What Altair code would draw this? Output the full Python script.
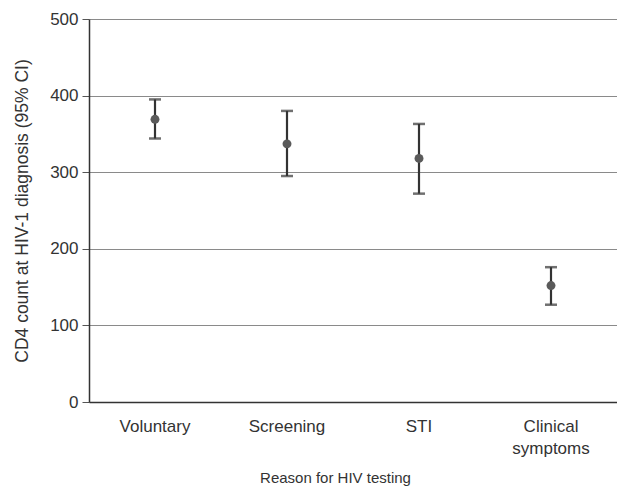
import altair as alt
import pandas as pd

reasons = ["Voluntary", "Screening", "STI", "Clinical symptoms"]
cd4 = [369, 337, 318, 152]
lower = [344, 295, 272, 127]
upper = [395, 380, 363, 176]

df = pd.DataFrame({"reason": reasons, "cd4": cd4, "lo": lower, "hi": upper})

FONT = "Liberation Sans"

x = alt.X("reason:N", sort=reasons,
          title="Reason for HIV testing",
          scale=alt.Scale(paddingInner=0, paddingOuter=0),
          axis=alt.Axis(labelAngle=0, ticks=False, domain=True, domainColor="#333",
                        domainWidth=1.5, labelPadding=16, titlePadding=14,
                        labelFontSize=17, titleFontSize=15,
                        titleX=246, titleAlign="center",
                        labelExpr="datum.label == 'Clinical symptoms' ? ['Clinical','symptoms'] : datum.label",
                        labelLineHeight=22, labelBaseline="top"))
yscale = alt.Scale(domain=[0, 500])
yaxis = alt.Axis(values=[0, 100, 200, 300, 400, 500], grid=True, gridColor="#8a8a8a",
                 gridWidth=1, domainColor="#333", domainWidth=1.5, tickColor="#555",
                 tickSize=7, labelPadding=4, titlePadding=18,
                 labelFontSize=17, titleFontSize=17.5)

base = alt.Chart(df)

rules = base.mark_rule(color="#333", strokeWidth=2.2).encode(
    x=x,
    y=alt.Y("lo:Q", scale=yscale, axis=yaxis, title="CD4 count at HIV-1 diagnosis (95% CI)"),
    y2="hi:Q",
)
caps_lo = base.mark_tick(color="#333", thickness=2.5, size=12).encode(
    x=x, y=alt.Y("lo:Q", scale=yscale))
caps_hi = base.mark_tick(color="#333", thickness=2.5, size=12).encode(
    x=x, y=alt.Y("hi:Q", scale=yscale))
points = base.mark_circle(color="#5a5a5a", opacity=1, size=80).encode(
    x=x, y=alt.Y("cd4:Q", scale=yscale))

chart = alt.layer(rules, caps_lo, caps_hi, points).properties(
    width=528, height=383,
    autosize=alt.AutoSizeParams(type="none"),
    padding={"left": 89, "top": 19, "right": 0, "bottom": 95},
).configure_view(stroke=None).configure_axis(
    labelFont=FONT, titleFont=FONT,
    labelColor="#333", titleColor="#333", titleFontWeight="normal",
)

chart.save("out.html", embed_options={"renderer": "svg", "actions": False})
